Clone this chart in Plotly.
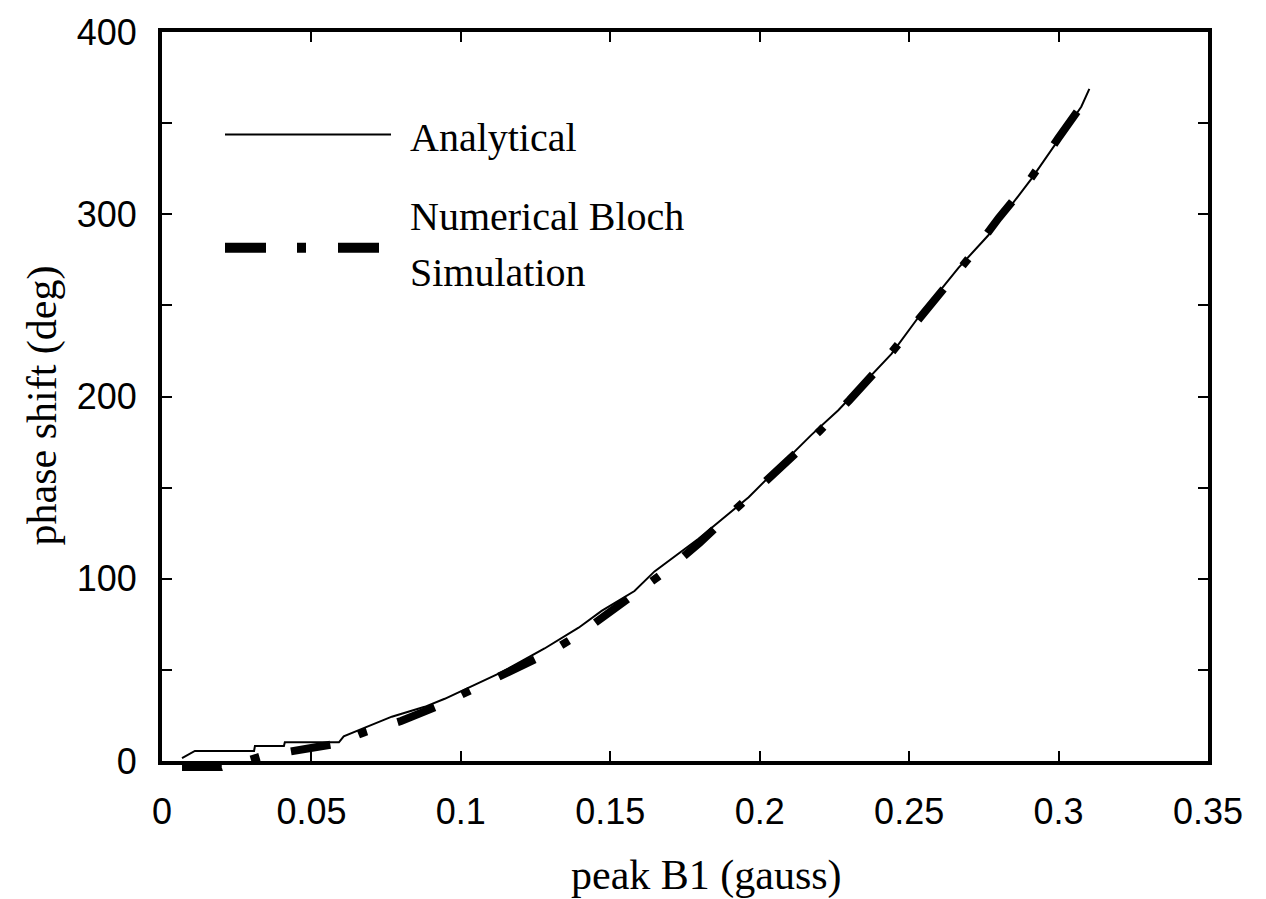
import plotly.graph_objects as go

# ---- data ----
analytical_b1 = [0.0067, 0.011, 0.0308, 0.0311, 0.0408, 0.0411, 0.0592, 0.0608, 0.0679,
                 0.0769, 0.0879, 0.0946, 0.1137, 0.128, 0.1394, 0.1471, 0.1581, 0.1648,
                 0.1795, 0.1963, 0.2173, 0.2263, 0.2441, 0.2531, 0.2665, 0.2765, 0.2909,
                 0.2992, 0.3076, 0.3103]
analytical_phase = [1.6, 5.6, 5.6, 8.3, 8.3, 10.3, 10.3, 13.6, 18.4,
                    24.4, 29.8, 34.2, 48.8, 61.8, 73.2, 82.4, 93.3, 104.1,
                    122.0, 144.8, 179.0, 192.5, 223.4, 243.5, 270.6, 288.5, 319.4,
                    338.9, 359.0, 368.8]

sim_b1 = [0.0067, 0.020, 0.033, 0.045, 0.058, 0.068, 0.080, 0.092, 0.105, 0.118,
          0.130, 0.140, 0.150, 0.160, 0.170, 0.180, 0.190, 0.200, 0.210, 0.220,
          0.230, 0.240, 0.250, 0.260, 0.270, 0.280, 0.290, 0.300, 0.310]
sim_phase = [-3.8, -3.8, 2.5, 5.5, 9.5, 16, 22, 30, 40, 50,
             60, 70, 82, 93, 106, 120, 135, 150, 165, 181,
             198, 216, 236, 256, 276, 298, 318, 342, 365]

x_ticks = [0, 0.05, 0.1, 0.15, 0.2, 0.25, 0.3, 0.35]
x_ticktext = ["0", "0.05", "0.1", "0.15", "0.2", "0.25", "0.3", "0.35"]
y_ticks = [0, 50, 100, 150, 200, 250, 300, 350, 400]
y_ticktext = ["0", "", "100", "", "200", "", "300", "", "400"]

# ---- layout geometry ----
W, H = 1266, 899
ML, MR, MT, MB = 162, 58, 21, 128
plot_h = H - MT - MB
extra = 10                     # pixels below the y=0 frame line
d = extra / plot_h
px_per_unit = (plot_h - extra) / 400.0
y2_min = -extra / px_per_unit

tick_font = dict(family="Liberation Sans, Arial, sans-serif", size=36, color="black")
title_font = dict(family="Liberation Serif, Times New Roman, serif", size=42, color="black")
legend_font = dict(family="Liberation Serif, Times New Roman, serif", size=40, color="black")

fig = go.Figure()

fig.add_trace(go.Scatter(
    x=sim_b1, y=sim_phase, mode="lines", name="Numerical Bloch Simulation",
    line=dict(color="black", width=8, dash="40px,30px,9px,32px"),
    xaxis="x2", yaxis="y2", showlegend=False, hoverinfo="skip"))

fig.add_trace(go.Scatter(
    x=analytical_b1, y=analytical_phase, mode="lines", name="Analytical",
    line=dict(color="black", width=2), showlegend=False))

axis_common = dict(showgrid=False, zeroline=False, showline=True, linecolor="black",
                   linewidth=4, mirror="ticks", ticks="inside", ticklen=10, tickwidth=2,
                   tickcolor="black", tickfont=tick_font)

fig.update_layout(
    width=W, height=H,
    margin=dict(l=ML, r=MR, t=MT, b=MB),
    paper_bgcolor="white", plot_bgcolor="rgba(0,0,0,0)",
    xaxis=dict(range=[0, 0.35], tickmode="array", tickvals=x_ticks, ticktext=x_ticktext,
               anchor="y", domain=[0, 1], ticklabelstandoff=16, **axis_common),
    yaxis=dict(range=[0, 400], tickmode="array", tickvals=y_ticks, ticktext=y_ticktext,
               anchor="x", domain=[d, 1], ticklabelstandoff=14, **axis_common),
    xaxis2=dict(range=[0, 0.35], domain=[0, 1], anchor="y2", visible=False),
    yaxis2=dict(range=[y2_min, 400], domain=[0, 1], anchor="x2", visible=False),
    showlegend=False,
)

def px_x(p):
    return (p - ML) / (W - ML - MR)

def px_y(p):
    return (H - MB - p) / plot_h

# axis titles
fig.add_annotation(text="peak B1 (gauss)", xref="paper", yref="paper",
                   x=px_x(706), y=px_y(877), showarrow=False, font=title_font,
                   xanchor="center", yanchor="middle")
fig.add_annotation(text="phase shift (deg)", xref="paper", yref="paper",
                   x=px_x(42), y=px_y(400), showarrow=False, font=title_font,
                   textangle=-90, xanchor="center", yanchor="middle")

# manual legend
fig.add_shape(type="line", xref="paper", yref="paper",
              x0=px_x(225), x1=px_x(391), y0=px_y(125), y1=px_y(125),
              line=dict(color="black", width=2))
fig.add_shape(type="line", xref="paper", yref="paper",
              x0=px_x(225), x1=px_x(381), y0=px_y(240), y1=px_y(240),
              line=dict(color="black", width=10, dash="41px,31px,9px,32px"))
fig.add_annotation(text="Analytical", xref="paper", yref="paper",
                   x=px_x(408), y=px_y(128), showarrow=False, font=legend_font,
                   xanchor="left", yanchor="middle")
fig.add_annotation(text="Numerical Bloch", xref="paper", yref="paper",
                   x=px_x(408), y=px_y(208), showarrow=False, font=legend_font,
                   xanchor="left", yanchor="middle")
fig.add_annotation(text="Simulation", xref="paper", yref="paper",
                   x=px_x(408), y=px_y(265), showarrow=False, font=legend_font,
                   xanchor="left", yanchor="middle")

fig.write_html("out.html", config={"displayModeBar": False},
               post_script="document.body.style.margin='0px';document.body.style.padding='0px';")
